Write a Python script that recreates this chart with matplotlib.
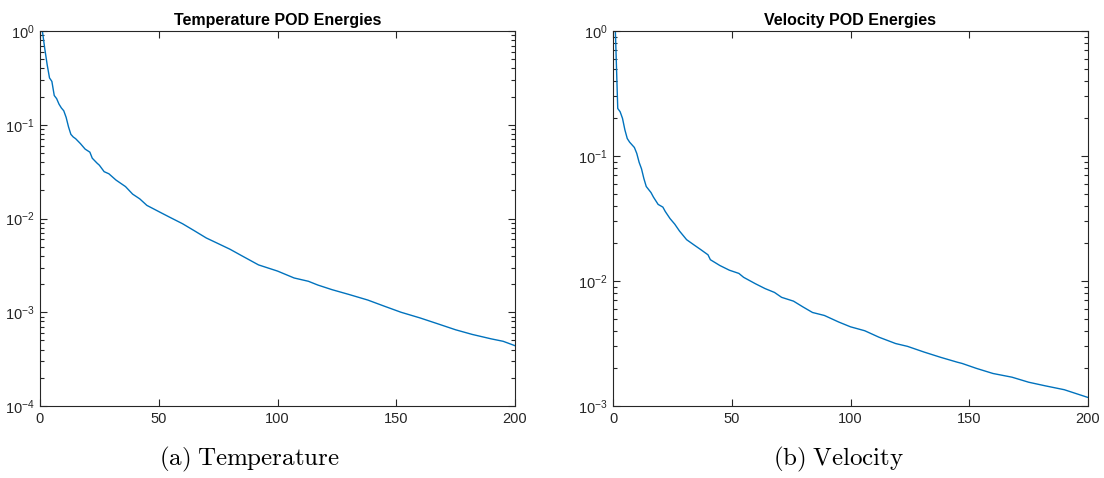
import math
import matplotlib
matplotlib.use("Agg")
import matplotlib.pyplot as plt
from matplotlib.ticker import FixedLocator, LogLocator, FuncFormatter, NullFormatter

plt.rcParams['font.family'] = ['Liberation Sans', 'DejaVu Sans']
plt.rcParams['mathtext.fontset'] = 'custom'
plt.rcParams['mathtext.rm'] = 'Liberation Sans'
plt.rcParams['mathtext.it'] = 'Liberation Sans:italic'
plt.rcParams['mathtext.bf'] = 'Liberation Sans:bold'

# POD mode energies (normalised to the first mode)
temp_modes = [1, 2, 3, 4, 5, 6, 7, 8, 9, 10, 11, 12, 13, 14, 15, 17, 19, 21, 22,
              24, 25, 27, 29, 32, 36, 39, 42, 45, 48, 51, 55, 60, 65, 70, 75, 80,
              85, 92, 100, 107, 113, 117, 123, 130, 138, 145, 152, 160, 167, 175,
              182, 190, 195, 200]
temp_energy = [1.0, 0.65, 0.44, 0.316, 0.29, 0.205, 0.19, 0.166, 0.151, 0.141,
               0.12, 0.095, 0.079, 0.074, 0.071, 0.063, 0.055, 0.051, 0.044,
               0.039, 0.037, 0.0316, 0.030, 0.0257, 0.0219, 0.0182, 0.0162,
               0.0138, 0.0126, 0.0115, 0.0102, 0.0088, 0.0074, 0.0062, 0.0054,
               0.0047, 0.0040, 0.0032, 0.00275, 0.00232, 0.00214, 0.00195,
               0.00174, 0.00155, 0.00135, 0.00116, 0.00100, 0.00087, 0.00076,
               0.00065, 0.00058, 0.00052, 0.00049, 0.00044]

vel_modes = [1, 2, 3, 4, 5, 6, 7, 9, 10, 11, 12, 13, 14, 16, 17, 19, 21, 22, 24,
             26, 28, 31, 34, 37, 40, 41, 45, 49, 53, 55, 60, 64, 68, 71, 76, 80,
             84, 89, 95, 100, 106, 112, 119, 124, 131, 138, 145, 147, 153, 160,
             168, 175, 182, 190, 200]
vel_energy = [1.0, 0.24, 0.226, 0.20, 0.162, 0.138, 0.129, 0.117, 0.105, 0.089,
              0.079, 0.066, 0.057, 0.051, 0.047, 0.041, 0.039, 0.036, 0.0316,
              0.0285, 0.0251, 0.0214, 0.0195, 0.0178, 0.0162, 0.0148, 0.0133,
              0.0122, 0.0115, 0.0107, 0.0095, 0.0087, 0.0081, 0.0074, 0.0069,
              0.0062, 0.0056, 0.0053, 0.0047, 0.0043, 0.0040, 0.00355, 0.00316,
              0.0030, 0.0027, 0.00245, 0.00224, 0.00219, 0.0020, 0.00182,
              0.0017, 0.00155, 0.00145, 0.00135, 0.00117]

x_ticks = [0, 50, 100, 150, 200]
titles = ["Temperature POD Energies", "Velocity POD Energies"]
captions = [r"$\mathrm{(a)\;Temperature}$", r"$\mathrm{(b)\;Velocity}$"]
y_limits = [(1e-4, 1e0), (1e-3, 1e0)]

line_color = "#0072BD"
axis_color = "#262626"

fig = plt.figure(figsize=(11.04, 4.78), dpi=100)
W, H = 1104, 478
boxes = [(40, 31, 475, 375), (613, 31, 475, 375)]
caption_x = [249, 839]
series = [(temp_modes, temp_energy), (vel_modes, vel_energy)]


def decade_label(v, pos):
    return r"$\mathregular{10^{%d}}$" % round(math.log10(v))


for k in range(2):
    x0, y0, w, h = boxes[k]
    ax = fig.add_axes([x0 / W, 1 - (y0 + h) / H, w / W, h / H])
    xs, ys = series[k]
    ax.plot(xs, ys, color=line_color, lw=1.0)
    ax.set_yscale("log")
    ax.set_xlim(0, 200)
    ax.set_ylim(*y_limits[k])
    ax.xaxis.set_major_locator(FixedLocator(x_ticks))
    ax.yaxis.set_major_locator(LogLocator(base=10, numticks=10))
    ax.yaxis.set_minor_locator(LogLocator(base=10, subs=range(2, 10), numticks=20))
    ax.yaxis.set_minor_formatter(NullFormatter())
    ax.yaxis.set_major_formatter(FuncFormatter(decade_label))
    ax.tick_params(which="both", direction="in", top=True, right=True,
                   color=axis_color, labelcolor=axis_color, labelsize=10.5, width=0.8)
    ax.tick_params(which="major", length=5, pad=4)
    ax.tick_params(which="minor", length=3)
    for s in ax.spines.values():
        s.set_color(axis_color)
        s.set_linewidth(0.8)
    ax.set_title(titles[k], fontsize=11.5, fontweight="bold", pad=4, color="black")
    fig.text(caption_x[k] / W, 1 - 459 / H, captions[k], ha="center", va="center",
             fontsize=18, math_fontfamily="cm")

fig.savefig("out.png", dpi=100)
